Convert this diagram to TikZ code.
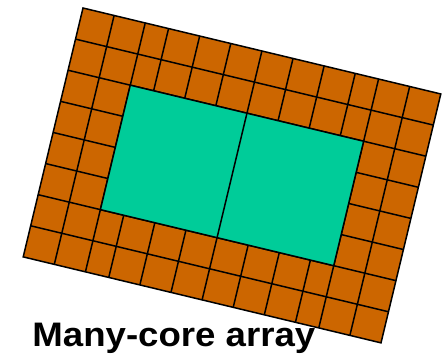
\documentclass[tikz,border=0pt]{standalone}
\usepackage{fontspec}
\setmainfont{Liberation Sans}
\definecolor{corecol}{RGB}{204,102,0}
\definecolor{bigcol}{RGB}{0,204,153}
\begin{document}
\begin{tikzpicture}[x=1pt,y=1pt,line width=1.5pt,line join=miter,
  gridline/.style={draw=black},
  bigblock/.style={fill=bigcol,draw=black},
  caption/.style={font=\bfseries\fontsize{34}{40}\selectfont,anchor=base west,inner sep=0pt}]
\useasboundingbox (0,0) rectangle (447,-356);
\begin{scope}[shift={(83,-8)},rotate=-13.51]
  \fill[corecol] (0,0) rectangle (368,-256);
  \foreach \u in {32,64,88,120,152,184,216,248,280,304,336}
    \draw[gridline] (\u,0) -- (\u,-256);
  \foreach \v in {32,64,96,128,160,192,224}
    \draw[gridline] (0,-\v) -- (368,-\v);
  \draw[bigblock] (64,-64) rectangle (304,-192);
  \draw[gridline] (184,-64) -- (184,-192);
  \draw[gridline] (0,0) rectangle (368,-256);
\end{scope}
\node[caption] (label) at (31.7,-346.7) {\scalebox{1.077}[1]{Many-core array}};
\end{tikzpicture}
\end{document}
